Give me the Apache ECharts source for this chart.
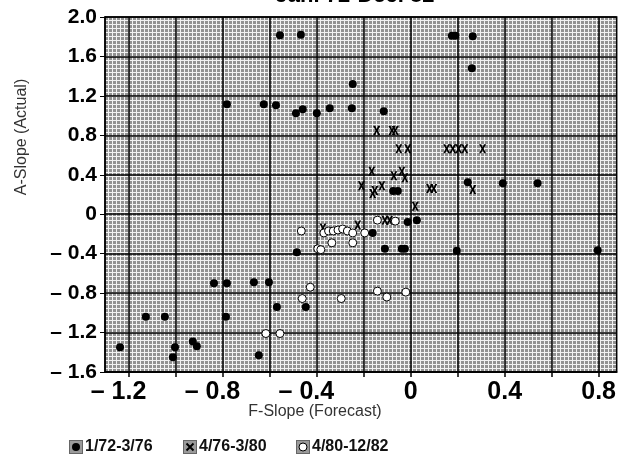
<!DOCTYPE html>
<html>
<head>
<meta charset="utf-8">
<script src="https://cdn.jsdelivr.net/npm/echarts@6.0.0/dist/echarts.min.js"></script>
<style>
html, body { margin: 0; padding: 0; background: #fff; }
#chart { width: 619px; height: 460px; }
</style>
</head>
<body>
<div id="chart"></div>
<script>
// F-Slope (forecast), A-Slope (actual) pairs
var period1 = [
  [-0.557, 1.814], [-0.468, 1.82], [0.175, 1.81], [0.19, 1.81], [0.264, 1.805],
  [0.26, 1.48], [-0.247, 1.32], [-0.251, 1.075], [-0.115, 1.045],
  [-0.783, 1.115], [-0.626, 1.115], [-0.574, 1.105], [-0.489, 1.024], [-0.46, 1.065],
  [-0.4, 1.024], [-0.345, 1.075],
  [0.243, 0.325], [0.392, 0.314], [0.54, 0.314], [-0.075, 0.235], [-0.055, 0.235],
  [-0.013, -0.08], [0.026, -0.06], [-0.162, -0.19],
  [-0.485, -0.385], [-0.11, -0.35], [-0.038, -0.35], [-0.025, -0.35], [0.196, -0.37], [0.796, -0.365],
  [-0.838, -0.70], [-0.783, -0.70], [-0.668, -0.69], [-0.604, -0.69],
  [-0.57, -0.94], [-0.447, -0.94], [-0.787, -1.04], [-1.128, -1.04], [-1.047, -1.04],
  [-1.238, -1.35], [-1.004, -1.35], [-1.013, -1.45], [-0.928, -1.29], [-0.911, -1.34], [-0.647, -1.43]
];
var period2 = [
  [-0.145, 0.85], [-0.08, 0.85], [-0.066, 0.85],
  [-0.051, 0.665], [-0.013, 0.665], [0.153, 0.665], [0.179, 0.665], [0.204, 0.665], [0.23, 0.665], [0.306, 0.665],
  [-0.166, 0.436], [-0.072, 0.39], [-0.038, 0.436], [-0.025, 0.37],
  [-0.21, 0.29], [-0.162, 0.21], [-0.153, 0.24], [-0.123, 0.29],
  [0.08, 0.26], [0.098, 0.26], [0.264, 0.25], [0.019, 0.08],
  [-0.374, -0.14], [-0.226, -0.11], [-0.11, -0.06], [-0.09, -0.06]
];
var period3 = [
  [-0.466, -0.17], [-0.37, -0.19], [-0.35, -0.17], [-0.33, -0.17], [-0.31, -0.16], [-0.29, -0.15],
  [-0.27, -0.17], [-0.247, -0.19], [-0.196, -0.19], [-0.336, -0.29], [-0.247, -0.29],
  [-0.396, -0.35], [-0.383, -0.36], [-0.142, -0.06], [-0.066, -0.07],
  [-0.428, -0.74], [-0.462, -0.855], [-0.296, -0.855], [-0.142, -0.78], [-0.102, -0.84], [-0.021, -0.79],
  [-0.617, -1.21], [-0.557, -1.21]
];
var seriesNames = ['1/72-3/76', '4/76-3/80', '4/80-12/82'];
var xGridValues = [-1.2, -1.0, -0.8, -0.6, -0.4, -0.2, 0, 0.2, 0.4, 0.6, 0.8];
var xLabelValues = [-1.2, -0.8, -0.4, 0, 0.4, 0.8];

// halftone-ish background tile
var tile = document.createElement('canvas');
tile.width = 4; tile.height = 4;
var tc = tile.getContext('2d');
tc.fillStyle = '#929292'; tc.fillRect(0, 0, 4, 4);
tc.fillStyle = '#f2f2f2'; tc.fillRect(0, 0, 4, 1); tc.fillRect(0, 0, 1, 4);

var crossPath = 'path://M0,0L3,0L5,3.5L7,0L10,0L6.5,5L10,10L7,10L5,6.5L3,10L0,10L3.5,5Z';

function svgIcon(inner) {
  var s = "<svg xmlns='http://www.w3.org/2000/svg' width='14' height='14'>" +
    "<rect x='0.5' y='0.5' width='13' height='13' fill='#9a9a9a' stroke='#666'/>" + inner + "</svg>";
  return 'image://data:image/svg+xml;charset=utf-8,' + encodeURIComponent(s);
}
var icons = [
  svgIcon("<circle cx='7' cy='7' r='4' fill='#000'/>"),
  svgIcon("<path d='M3.5,3.5L10.5,10.5M10.5,3.5L3.5,10.5' stroke='#000' stroke-width='2'/>"),
  svgIcon("<circle cx='7' cy='7' r='4' fill='#fff' stroke='#000'/>")
];

function fmt(v) { return Math.abs(v) < 1e-9 ? '0' : Math.abs(v).toFixed(1); }

var chart = echarts.init(document.getElementById('chart'));
chart.setOption({
  animation: false,
  title: {
    text: 'Jan. 72-Dec. 82',
    left: 350, top: -20, textAlign: 'center',
    textStyle: { fontFamily: 'Liberation Sans', fontSize: 22, fontWeight: 'bold', color: '#000' }
  },
  grid: {
    left: 105, top: 17, right: 2, bottom: 88,
    show: true,
    backgroundColor: { image: tile, repeat: 'repeat' },
    borderColor: '#000', borderWidth: 1.5
  },
  xAxis: {
    type: 'value', min: -1.302, max: 0.877,
    axisLine: { show: true, onZero: false, lineStyle: { color: '#000', width: 1.5 } },
    axisTick: { show: true, length: 5, customValues: xGridValues, lineStyle: { color: '#000', width: 1.5 } },
    splitLine: { show: true, lineStyle: { color: '#000', width: 1.5 } },
    axisLabel: {
      customValues: xLabelValues, margin: 8,
      fontFamily: 'Liberation Sans', fontSize: 25, fontWeight: 'bold', color: '#000',
      formatter: function (v) {
        // dash hangs left so the numeral stays centred on its tick
        if (v < -1e-9) return '\u2013 ' + fmt(v) + '   ';
        return fmt(v);
      }
    }
  },
  yAxis: {
    type: 'value', min: -1.6, max: 2.0, interval: 0.4,
    axisLine: { show: true, onZero: false, lineStyle: { color: '#000', width: 1.5 } },
    axisTick: { show: true, length: 5, lineStyle: { color: '#000', width: 1 } },
    splitLine: { show: true, lineStyle: { color: '#000', width: 1.5 } },
    axisLabel: {
      margin: 8,
      fontFamily: 'Liberation Sans', fontSize: 21, fontWeight: 'bold', color: '#000',
      formatter: function (v) {
        if (v < -1e-9) return '\u2013 ' + fmt(v);
        return fmt(v);
      }
    }
  },
  legend: [0, 1, 2].map(function (i) {
    return {
      data: [{ name: seriesNames[i], icon: icons[i] }],
      left: [64, 178, 291][i], top: 434,
      itemWidth: 14, itemHeight: 14, itemGap: 2,
      textStyle: { fontFamily: 'Liberation Sans', fontSize: 16, fontWeight: 'bold', color: '#111', padding: [0, 0, 0, -3] },
      selectedMode: false
    };
  }),
  graphic: [
    {
      type: 'text', x: 22, y: 137, rotation: Math.PI / 2,
      style: {
        text: 'A-Slope (Actual)', fill: '#333',
        font: '16px "Liberation Sans"', align: 'center', verticalAlign: 'middle'
      }
    },
    {
      type: 'text', x: 315, y: 412,
      style: {
        text: 'F-Slope (Forecast)', fill: '#333',
        font: '16px "Liberation Sans"', align: 'center', verticalAlign: 'middle'
      }
    }
  ],
  series: [
    {
      name: seriesNames[0], type: 'scatter', data: period1,
      symbol: 'circle', symbolSize: 8,
      itemStyle: { color: '#000', opacity: 1 }
    },
    {
      name: seriesNames[1], type: 'scatter', data: period2,
      symbol: crossPath, symbolSize: [7, 9],
      itemStyle: { color: '#000', opacity: 1 }
    },
    {
      name: seriesNames[2], type: 'scatter', data: period3,
      symbol: 'circle', symbolSize: 8,
      itemStyle: { color: '#fff', borderColor: '#000', borderWidth: 1, opacity: 1 }
    }
  ]
});
</script>
</body>
</html>
